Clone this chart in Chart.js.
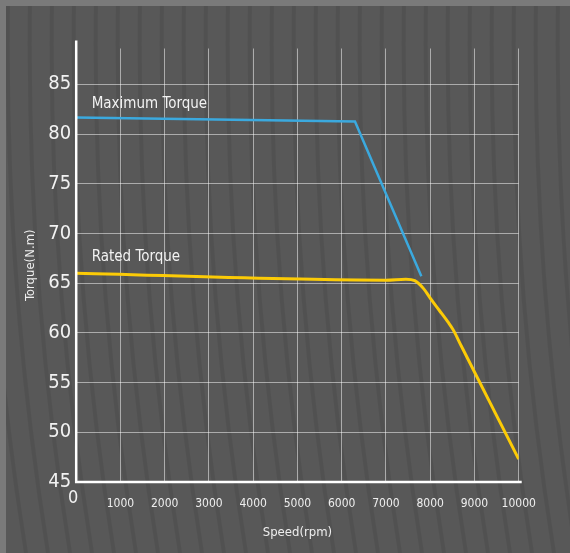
<!DOCTYPE html>
<html>
<head>
<meta charset="utf-8">
<script src="https://cdn.jsdelivr.net/npm/chart.js@4.4.1/dist/chart.umd.min.js"></script>
<style>
  html, body { margin: 0; padding: 0; background: #7a7a7a; }
  #wrap { width: 570px; height: 553px; position: relative; }
</style>
</head>
<body>
<div id="wrap"><canvas id="torqueChart"></canvas></div>
<script>
// Torque / speed curves
const speedMax = [0, 6300, 7800];
const torqueMax = [81.65, 81.25, 65.7];

const speedRated = [0, 7000, 7450, 7650, 7850, 8000, 8200, 8400, 8520, 8700, 10000];
const torqueRated = [66.0, 65.3, 65.4, 65.25, 64.45, 63.5, 62.3, 61.1, 60.3, 58.7, 47.3];

const xTicks = [0, 1000, 2000, 3000, 4000, 5000, 6000, 7000, 8000, 9000, 10000];
const yTicks = [45, 50, 55, 60, 65, 70, 75, 80, 85];

const FONT = "'DejaVu Sans Condensed', 'DejaVu Sans', sans-serif";

const toPoints = (xs, ys) => xs.map((x, i) => ({ x: x, y: ys[i] }));

// dark panel with curved stripes
const backdrop = {
    id: 'backdrop',
    beforeDraw(chart) {
        const { ctx, width, height } = chart;
        ctx.save();
        ctx.fillStyle = '#7a7a7a';
        ctx.fillRect(0, 0, width, height);
        ctx.fillStyle = '#585858';
        ctx.fillRect(6, 6, width - 6, height - 6);
        ctx.beginPath();
        ctx.rect(6, 6, width - 6, height - 6);
        ctx.clip();
        ctx.strokeStyle = 'rgba(0,0,0,0.07)';
        ctx.lineWidth = 4;
        for (let x0 = -80; x0 < width + 40; x0 += 22) {
            ctx.beginPath();
            ctx.moveTo(x0, 0);
            ctx.quadraticCurveTo(x0 - 4, height * 0.5, x0 + 40, height);
            ctx.stroke();
        }
        ctx.restore();
    }
};

// axis lines, origin "0" and curve names
const decorations = {
    id: 'decorations',
    afterDatasetsDraw(chart) {
        const { ctx, chartArea, scales } = chart;
        const x = scales.x, y = scales.y;
        ctx.save();
        ctx.strokeStyle = '#ffffff';
        ctx.lineWidth = 2.5;
        ctx.beginPath();
        ctx.moveTo(chartArea.left, chartArea.top - 8);
        ctx.lineTo(chartArea.left, chartArea.bottom);
        ctx.lineTo(chartArea.right + 3, chartArea.bottom);
        ctx.stroke();

        ctx.fillStyle = '#f2f2f2';
        ctx.textAlign = 'center';
        ctx.textBaseline = 'middle';
        ctx.font = '18px ' + FONT;
        ctx.fillText('0', x.getPixelForValue(0) - 3, chartArea.bottom + 16);

        ctx.textAlign = 'left';
        ctx.font = '15px ' + FONT;
        ctx.fillText('Maximum Torque', x.getPixelForValue(0) + 15.5, y.getPixelForValue(torqueMax[0]) - 13.5);
        ctx.fillText('Rated Torque', x.getPixelForValue(0) + 15.5, y.getPixelForValue(torqueRated[0]) - 16);
        ctx.restore();
    }
};

const ctx = document.getElementById('torqueChart').getContext('2d');
const torqueChart = new Chart(ctx, {
    type: 'line',
    data: {
        datasets: [{
            label: 'Maximum Torque',
            data: toPoints(speedMax, torqueMax),
            borderColor: '#3ba9de',
            borderWidth: 2.5,
            pointRadius: 0,
            tension: 0,
            fill: false
        }, {
            label: 'Rated Torque',
            data: toPoints(speedRated, torqueRated),
            borderColor: '#fccb06',
            borderWidth: 3,
            pointRadius: 0,
            cubicInterpolationMode: 'monotone',
            fill: false
        }]
    },
    options: {
        responsive: true,
        maintainAspectRatio: false,
        animation: false,
        layout: { padding: { left: 0, right: 51.3, top: 48.5, bottom: 0 } },
        plugins: {
            legend: { display: false },
            tooltip: { enabled: false }
        },
        scales: {
            x: {
                type: 'linear',
                min: 0,
                max: 10000,
                afterBuildTicks: s => { s.ticks = xTicks.map(v => ({ value: v })); },
                afterFit: s => { s.height = 71; },
                grid: { color: 'rgba(255,255,255,0.5)', lineWidth: 1, drawTicks: false },
                border: { display: false },
                ticks: {
                    color: '#eeeeee',
                    font: { family: FONT, size: 12 },
                    padding: 15,
                    maxRotation: 0,
                    autoSkip: false,
                    callback: v => (v === 0 ? '' : String(v))
                },
                title: {
                    display: true,
                    text: 'Speed(rpm)',
                    color: '#eeeeee',
                    font: { family: FONT, size: 13 },
                    padding: { top: 0, bottom: 13 }
                }
            },
            y: {
                min: 45,
                max: 88.6,
                afterBuildTicks: s => { s.ticks = yTicks.map(v => ({ value: v })); },
                afterFit: s => { s.width = 76.2; },
                grid: { color: 'rgba(255,255,255,0.5)', lineWidth: 1, drawTicks: false },
                border: { display: false },
                ticks: {
                    color: '#f2f2f2',
                    font: { family: FONT, size: 20 },
                    padding: 5
                },
                title: {
                    display: true,
                    text: 'Torque(N.m)',
                    color: '#eeeeee',
                    font: { family: FONT, size: 13 },
                    padding: { top: 23, bottom: 0 }
                }
            }
        }
    },
    plugins: [backdrop, decorations]
});
</script>
</body>
</html>
